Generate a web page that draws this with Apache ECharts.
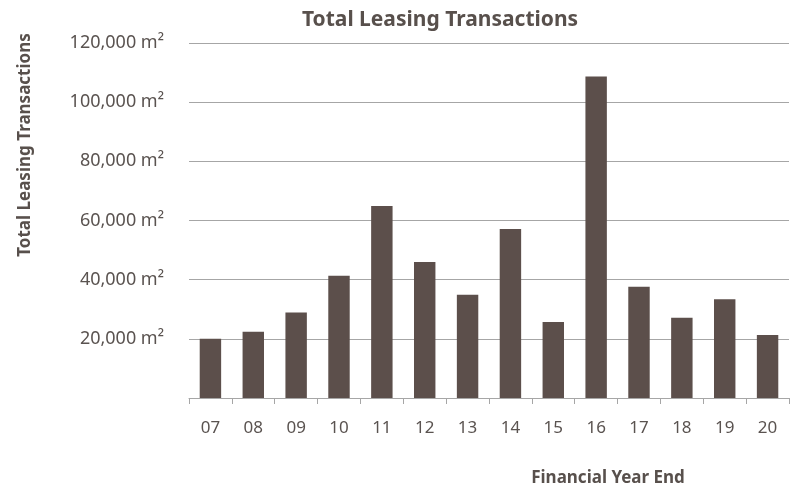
<!DOCTYPE html>
<html>
<head>
<meta charset="utf-8">
<script src="https://cdn.jsdelivr.net/npm/echarts@6/dist/echarts.min.js"></script>
<style>
  html, body { margin: 0; padding: 0; background: #fff; }
  #chart { width: 794px; height: 488px; }
</style>
</head>
<body>
<div id="chart"></div>
<script>
// 数据
const years = ['07', '08', '09', '10', '11', '12', '13', '14', '15', '16', '17', '18', '19', '20']
const leasingArea = [20000, 22400, 28900, 41300, 64900, 46000, 34900, 57100, 25700, 108700, 37600, 27100, 33400, 21300]
const yTicks = [0, 20000, 40000, 60000, 80000, 100000, 120000]

const textColor = '#5a5350'
const titleColor = '#58504c'
const barColor = '#5c4f4b'
const lineColor = '#a6a6a6'
const fontFamily = '"Noto Sans", "Open Sans", sans-serif'

const chart = echarts.init(document.getElementById('chart'))

const option = {
  animation: false,
  backgroundColor: '#fff',
  title: {
    text: 'Total Leasing Transactions',
    left: 435,
    top: 5,
    textAlign: 'center',
    textStyle: { fontFamily: fontFamily, fontSize: 21, fontWeight: 'bold', color: titleColor }
  },
  graphic: [
    {
      // y轴标题
      type: 'text',
      x: 25,
      y: 145,
      rotation: Math.PI / 2,
      style: {
        text: 'Total Leasing Transactions',
        font: 'bold 17px ' + fontFamily,
        fill: titleColor,
        textAlign: 'center',
        textVerticalAlign: 'middle'
      }
    },
    {
      // x轴标题
      type: 'text',
      x: 608,
      y: 478,
      style: {
        text: 'Financial Year End',
        font: 'bold 17px ' + fontFamily,
        fill: titleColor,
        textAlign: 'center',
        textVerticalAlign: 'middle'
      }
    }
  ],
  grid: { left: 189, right: 5, top: 43, bottom: 90, containLabel: false },
  xAxis: {
    type: 'category',
    data: years,
    axisLine: { show: true, lineStyle: { color: lineColor, width: 1 } },
    axisTick: { show: true, alignWithLabel: false, length: 6, lineStyle: { color: lineColor } },
    axisLabel: { color: textColor, fontFamily: fontFamily, fontSize: 17, margin: 22 }
  },
  yAxis: {
    type: 'value',
    min: yTicks[0],
    max: yTicks[yTicks.length - 1],
    interval: yTicks[1] - yTicks[0],
    axisLine: { show: false },
    axisTick: { show: false },
    splitLine: { show: true, lineStyle: { color: lineColor, width: 1 } },
    axisLabel: {
      color: textColor,
      fontFamily: fontFamily,
      fontSize: 18,
      margin: 25,
      formatter: function (v) {
        if (v === 0) return ''
        return v.toLocaleString('en-US') + ' m²'
      }
    }
  },
  series: [
    {
      type: 'bar',
      data: leasingArea,
      barWidth: '50%',
      itemStyle: { color: barColor }
    }
  ]
}

chart.setOption(option)
</script>
</body>
</html>
